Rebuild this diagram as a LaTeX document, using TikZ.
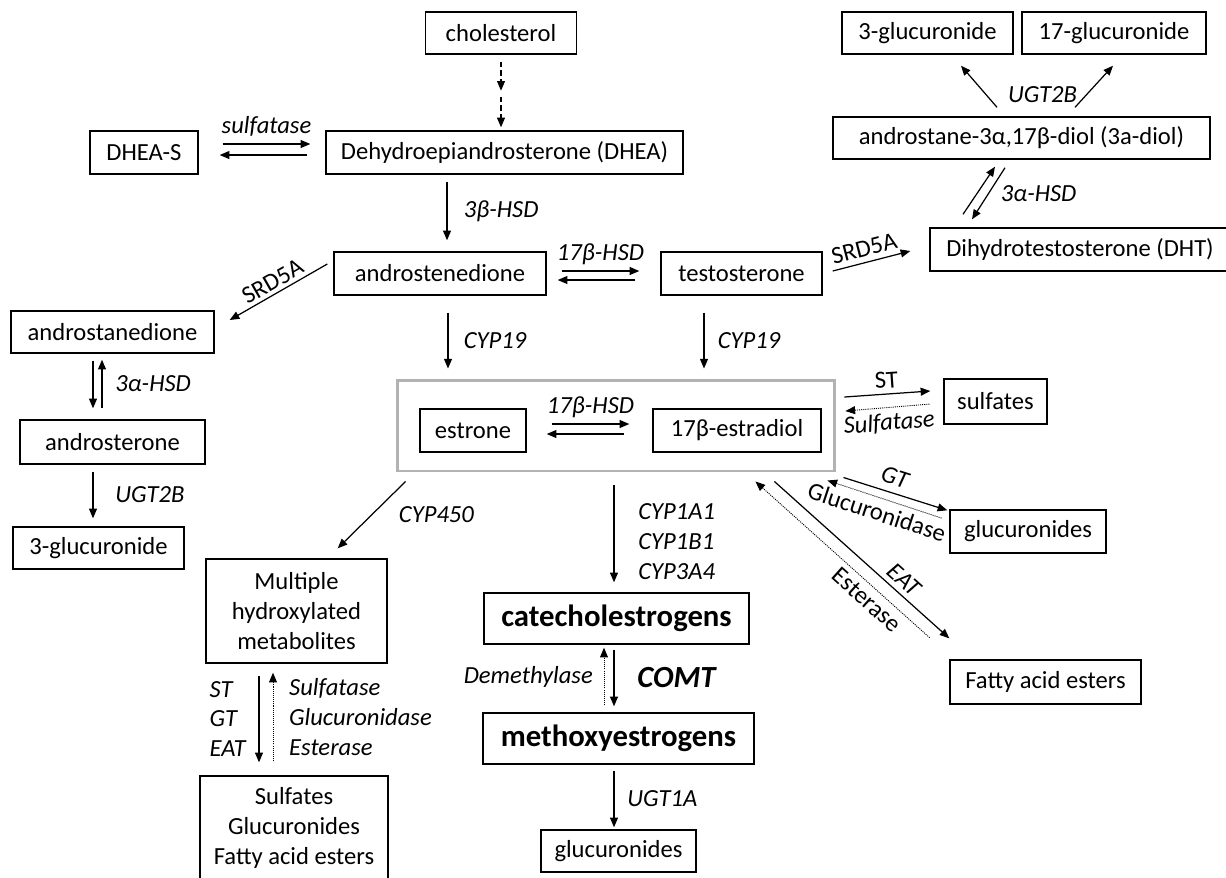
\documentclass[tikz,border=0pt]{standalone}
\usepackage{fontspec}
\setmainfont{Carlito}
\usetikzlibrary{arrows.meta,calc,positioning}

\begin{document}
\begin{tikzpicture}[x=0.02cm,y=-0.02cm,
	>={Triangle[length=5.5pt,width=4.5pt]},
	box/.style={draw,line width=0.8pt,inner sep=0pt,align=center,font=\fontsize{14}{17}\selectfont},
	big/.style={box,font=\fontsize{17.5}{21}\selectfont\bfseries},
	enz/.style={inner sep=1pt,font=\fontsize{14}{17}\selectfont\itshape},
	enzup/.style={inner sep=1pt,font=\fontsize{14}{17}\selectfont},
	rxn/.style={line width=0.7pt},
	back/.style={line width=0.5pt,dash pattern=on 0.6pt off 0.6pt}]

	\useasboundingbox (0,0) rectangle (1226,877);

	%---------------------
	% androgens
	%---------------------
	\node[box,minimum width=3.02cm,minimum height=0.84cm] (chol) at (501,33) {cholesterol};
	\node[box,minimum width=2.16cm,minimum height=0.86cm] (dheas) at (144,152.5) {DHEA-S};
	\node[box,minimum width=7.14cm,minimum height=0.86cm] (dhea) at (504.5,152.5) {Dehydroepiandrosterone (DHEA)};
	\node[box,minimum width=4.24cm,minimum height=0.86cm] (andione) at (440,273.5) {androstenedione};
	\node[box,minimum width=3.22cm,minimum height=0.86cm] (testo) at (741.5,273.5) {testosterone};
	\node[box,minimum width=6.00cm,minimum height=0.86cm] (dht) at (1080,249.5) {Dihydrotestosterone (DHT)};
	\node[box,minimum width=7.54cm,minimum height=0.84cm] (diol) at (1021.5,138) {androstane-3α,17β-diol (3a-diol)};
	\node[box,minimum width=3.42cm,minimum height=0.84cm] (glucA) at (927.5,33) {3-glucuronide};
	\node[box,minimum width=3.68cm,minimum height=0.84cm] (glucB) at (1114,33) {17-glucuronide};
	\node[box,minimum width=4.06cm,minimum height=0.84cm] (andane) at (112.5,332) {androstanedione};
	\node[box,minimum width=3.70cm,minimum height=0.88cm] (androst) at (112.5,442) {androsterone};
	\node[box,minimum width=3.42cm,minimum height=0.84cm] (glucC) at (98.5,548) {3-glucuronide};

	%---------------------
	% estrogens
	%---------------------
	\node[draw=gray!60,line width=1.7pt,minimum width=8.76cm,minimum height=1.82cm] (estr) at (616,425.5) {};
	\node[box,minimum width=2.12cm,minimum height=0.86cm] (estrone) at (473,430.5) {estrone};
	\node[box,minimum width=3.36cm,minimum height=0.86cm] (estradiol) at (737,430.5) {17β-estradiol};
	\node[box,minimum width=2.06cm,minimum height=0.90cm] (sulf) at (995.5,401.5) {sulfates};
	\node[box,minimum width=3.12cm,minimum height=0.86cm] (glucD) at (1028,531.5) {glucuronides};
	\node[box,minimum width=3.82cm,minimum height=0.88cm] (fae) at (1045.5,682) {Fatty acid esters};
	\node[box,minimum width=3.62cm,minimum height=2.08cm] (multi) at (296.5,611) {Multiple\\hydroxylated\\metabolites};
	\node[box,minimum width=3.76cm,minimum height=2.08cm] (conj) at (294,828) {Sulfates\\Glucuronides\\Fatty acid esters};
	\node[big,minimum width=5.30cm,minimum height=1.02cm] (catechol) at (616.5,618.5) {catecholestrogens};
	\node[big,minimum width=5.42cm,minimum height=1.02cm] (methoxy) at (618.5,738.5) {methoxyestrogens};
	\node[box,minimum width=3.10cm,minimum height=0.84cm] (glucE) at (618.5,851) {glucuronides};

	% cholesterol -> DHEA
	\draw[rxn,->,dash pattern=on 3pt off 2pt] ($(chol.south)+(0,7)$) -- ($(chol.south)+(0,36)$);
	\draw[rxn,->,dash pattern=on 3pt off 2pt] ($(chol.south)+(0,42)$) -- ($(dhea.north)+(-3.5,-3)$);

	% DHEA-S <-> DHEA
	\draw[rxn,->] ($(dheas.east)+(24,-8.5)$) -- ($(dhea.west)+(-15,-8.5)$) node[enz,midway,above=3pt] (lsulfA) {sulfatase};
	\draw[rxn,->] ($(dhea.west)+(-18,2.5)$) -- ($(dheas.east)+(21,2.5)$);

	% DHEA -> androstenedione
	\draw[rxn,->] ($(dhea.south)+(-57.5,7)$) -- ($(andione.north)+(7,-11)$) node[enz,midway,right=0.29cm] (lhsdA) {3β-HSD};

	% androstenedione <-> testosterone
	\draw[rxn,->] ($(andione.east)+(15,-2.5)$) -- ($(testo.west)+(-21,-2.5)$) node[enz,midway,above=2pt] (lhsdB) {17β-HSD};
	\draw[rxn,->] ($(testo.west)+(-25,6.5)$) -- ($(andione.east)+(11,6.5)$);

	% SRD5A
	\draw[rxn,<-] ($(andane.east)+(15,-12)$) -- ($(andione.west)+(-6,-9.5)$) node[enzup,midway,sloped,above=1pt] (lsrdA) {SRD5A};
	\draw[rxn,->] ($(testo.east)+(10,-2.5)$) -- ($(dht.west)+(-19,1.5)$) node[enzup,pos=0.45,sloped,above=2pt] (lsrdB) {SRD5A};

	% DHT <-> 3a-diol -> glucuronides
	\draw[rxn,->] ($(dht.north)+(-117,-13)$) -- ($(diol.south)+(-26.5,7)$);
	\draw[rxn,->] ($(diol.south)+(-16.5,8)$) -- ($(dht.north)+(-108,-8)$) node[enz,midway,right=0.2cm] (lhsdC) {3α-HSD};
	\draw[rxn,->] ($(diol.north)+(-24.5,-9)$) -- ($(glucA.south)+(33.5,11)$);
	\draw[rxn,->] ($(diol.north)+(53.5,-9)$) -- ($(glucB.south)+(-1,11)$) node[enz,pos=0.3,left=4pt] (lugtA) {UGT2B};

	% androstanedione <-> androsterone -> 3-glucuronide
	\draw[rxn,->] ($(andane.south)+(-19.5,7)$) -- ($(androst.north)+(-19.5,-11)$);
	\draw[rxn,->] ($(androst.north)+(-10.5,-11)$) -- ($(andane.south)+(-10.5,6)$) node[enz,midway,right=0.22cm] (lhsdD) {3α-HSD};
	\draw[rxn,->] ($(androst.south)+(-19.5,7)$) -- ($(glucC.north)+(-5.5,-8)$) node[enz,midway,right=0.4cm] (lugtB) {UGT2B};

	% aromatase
	\draw[rxn,->] ($(andione.south)+(8,17)$) -- ($(estr.north)+(-168,-10)$) node[enz,midway,right=0.27cm] (lcypA) {CYP19};
	\draw[rxn,->] ($(testo.south)+(-37.5,17)$) -- ($(estr.north)+(88,-10)$) node[enz,midway,right=0.23cm] (lcypB) {CYP19};

	% estrone <-> estradiol
	\draw[rxn,->] ($(estrone.east)+(25,-6.5)$) -- ($(estradiol.west)+(-23,-6.5)$) node[enz,midway,above=2pt] (lhsdE) {17β-HSD};
	\draw[rxn,->] ($(estradiol.west)+(-28,3.5)$) -- ($(estrone.east)+(20,3.5)$);

	% conjugation
	\draw[rxn,->] ($(estr.east)+(8,-28.5)$) -- ($(sulf.west)+(-13,-10.5)$) node[enzup,midway,sloped,above=2pt] (lst) {ST};
	\draw[back,<-] ($(estr.east)+(9,-14.5)$) -- ($(sulf.west)+(-13,2.5)$) node[enz,midway,sloped,below=2pt] (lsulfB) {Sulfatase};
	\draw[rxn,->] ($(estr.south east)+(7,5)$) -- ($(glucD.north west)+(-2,1)$) node[enz,pos=0.45,sloped,above=3pt] (lgt) {GT};
	\draw[back,<-] ($(estr.south east)+(-9,8)$) -- ($(glucD.north west)+(-7,9)$) node[enzup,pos=0.47,sloped,below=2pt] (lgluc) {Glucuronidase};
	\draw[rxn,->] ($(estr.south east)+(-62,9)$) -- ($(fae.north west)+(0,-21)$) node[enz,pos=0.69,sloped,above=2pt] (leat) {EAT};
	\draw[back,<-] ($(estr.south east)+(-81,9)$) -- ($(fae.north west)+(-19,-21)$) node[enzup,pos=0.69,sloped,below=2pt] (lest) {Esterase};

	% hydroxylation
	\draw[rxn,->] ($(estr.south west)+(10,9)$) -- ($(multi.north east)+(-50,-10)$) node[enz,midway,right=0.5cm] (lcypC) {CYP450};
	\draw[rxn,->] ($(multi.south)+(-37.5,12)$) -- ($(conj.north)+(-35,-13)$) node[enz,midway,left=0.22cm,align=left] (lfwd) {ST\\GT\\EAT};
	\draw[back,->] ($(conj.north)+(-21,-14)$) -- ($(multi.south)+(-23.5,9)$) node[enz,midway,right=0.28cm,align=left] (lrev) {Sulfatase\\Glucuronidase\\Esterase};

	% catechol pathway
	\draw[rxn,->] ($(estr.south)+(-2,13)$) -- ($(catechol.north)+(-2.5,-10)$) node[enz,midway,anchor=west,xshift=0.44cm,yshift=-0.15cm,align=left] (lcypD) {CYP1A1\\CYP1B1\\CYP3A4};
	\draw[rxn,->] ($(catechol.south)+(-2.5,5)$) -- ($(methoxy.north)+(-4.5,-6)$) node[midway,right=0.42cm,inner sep=1pt,font=\fontsize{17.5}{21}\selectfont\bfseries\itshape] (lcomt) {COMT};
	\draw[back,->] ($(methoxy.north)+(-14.5,-7)$) -- ($(catechol.south)+(-12.5,3)$) node[enz,midway,left=0.18cm] (ldem) {Demethylase};
	\draw[rxn,->] ($(methoxy.south)+(-4.5,6)$) -- ($(glucE.north)+(-4.5,-2)$) node[enz,midway,right=0.22cm] (lugtC) {UGT1A};

\end{tikzpicture}
\end{document}
